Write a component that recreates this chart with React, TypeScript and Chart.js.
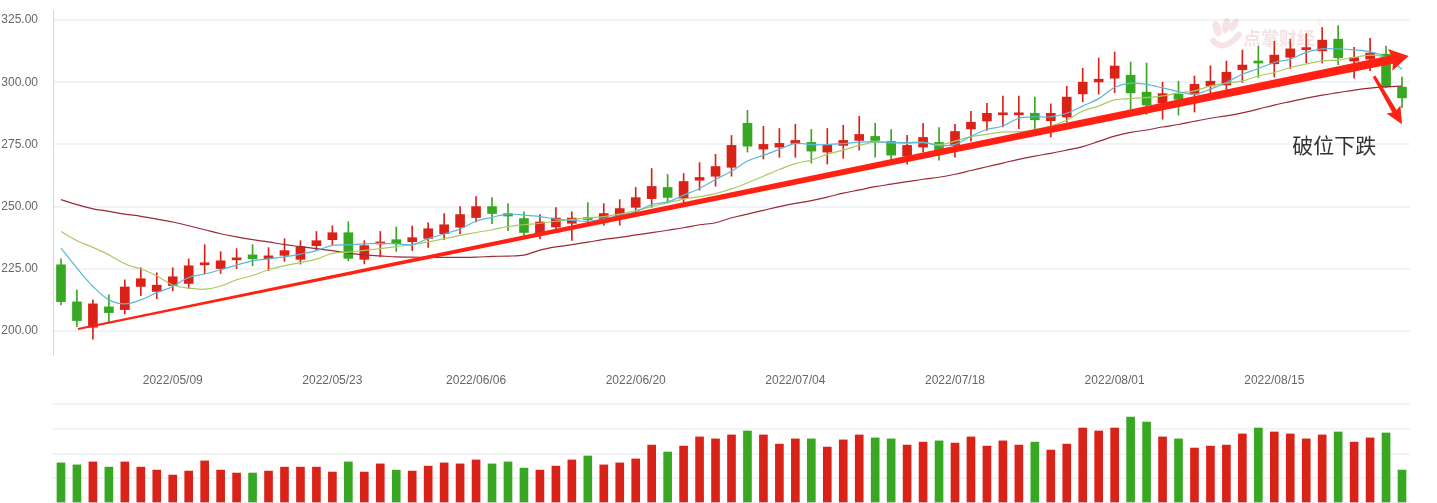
import React, { useEffect, useRef } from 'react';
import { Chart, registerables } from 'chart.js';

Chart.register(...registerables);

// ---------- data ----------
const dates = [
  '2022/04/25', '2022/04/26', '2022/04/27', '2022/04/28', '2022/04/29', '2022/05/05', '2022/05/06',
  '2022/05/09', '2022/05/10', '2022/05/11', '2022/05/12', '2022/05/13',
  '2022/05/16', '2022/05/17', '2022/05/18', '2022/05/19', '2022/05/20',
  '2022/05/23', '2022/05/24', '2022/05/25', '2022/05/26', '2022/05/27',
  '2022/05/30', '2022/05/31', '2022/06/01', '2022/06/02',
  '2022/06/06', '2022/06/07', '2022/06/08', '2022/06/09', '2022/06/10',
  '2022/06/13', '2022/06/14', '2022/06/15', '2022/06/16', '2022/06/17',
  '2022/06/20', '2022/06/21', '2022/06/22', '2022/06/23', '2022/06/24',
  '2022/06/27', '2022/06/28', '2022/06/29', '2022/06/30', '2022/07/01',
  '2022/07/04', '2022/07/05', '2022/07/06', '2022/07/07', '2022/07/08',
  '2022/07/11', '2022/07/12', '2022/07/13', '2022/07/14', '2022/07/15',
  '2022/07/18', '2022/07/19', '2022/07/20', '2022/07/21', '2022/07/22',
  '2022/07/25', '2022/07/26', '2022/07/27', '2022/07/28', '2022/07/29',
  '2022/08/01', '2022/08/02', '2022/08/03', '2022/08/04', '2022/08/05',
  '2022/08/08', '2022/08/09', '2022/08/10', '2022/08/11', '2022/08/12',
  '2022/08/15', '2022/08/16', '2022/08/17', '2022/08/18', '2022/08/19',
  '2022/08/22', '2022/08/23', '2022/08/24', '2022/08/25',
];

const shownDates = ['2022/05/09', '2022/05/23', '2022/06/06', '2022/06/20', '2022/07/04', '2022/07/18', '2022/08/01', '2022/08/15'];

const opens = [
  226.6, 211.7, 201.5, 209.7, 208.6, 217.9, 215.9, 218.3, 219.1, 226.6,
  225.1, 228.6, 230.6, 229.0, 230.4, 228.8, 234.3, 236.7, 239.5, 228.8,
  235.0, 236.7, 235.9, 237.2, 239.1, 241.7, 245.6, 250.0, 247.2, 245.2,
  239.4, 241.8, 243.3, 245.4, 244.8, 246.0, 249.7, 253.2, 257.7, 253.4,
  260.6, 262.2, 265.8, 283.5, 273.1, 273.9, 275.4, 275.8, 271.9, 274.6,
  276.6, 278.2, 276.2, 270.3, 273.9, 275.8, 274.6, 281.2, 284.4, 286.9,
  286.9, 287.5, 284.5, 286.0, 295.3, 300.1, 301.6, 302.8, 296.0, 291.6,
  295.2, 295.2, 298.5, 298.9, 305.0, 308.3, 307.4, 310.0, 313.1, 312.6,
  317.3, 308.5, 309.3, 311.3, 298.0,
];
const highs = [
  229.0, 216.5, 212.5, 214.5, 220.6, 225.4, 223.4, 225.4, 229.0, 234.7,
  231.9, 233.1, 234.7, 233.5, 237.1, 236.3, 240.0, 242.3, 243.9, 236.3,
  240.0, 241.8, 242.2, 243.5, 247.2, 250.0, 254.0, 253.6, 251.2, 247.9,
  246.8, 249.6, 247.9, 251.6, 251.2, 252.8, 257.7, 265.3, 262.9, 263.3,
  267.7, 271.0, 278.6, 288.7, 282.3, 281.4, 283.1, 281.0, 281.4, 282.7,
  286.3, 283.5, 281.0, 278.6, 283.5, 281.8, 283.1, 288.3, 291.5, 294.4,
  294.4, 294.0, 291.3, 298.4, 305.6, 309.7, 312.1, 308.1, 307.7, 300.0,
  300.4, 302.5, 306.6, 308.5, 312.9, 314.5, 316.5, 317.3, 319.5, 322.0,
  322.8, 314.0, 317.6, 314.5, 302.1,
];
const lows = [
  210.5, 201.7, 196.7, 203.1, 206.9, 214.2, 213.0, 216.1, 217.0, 222.9,
  223.1, 225.1, 226.2, 224.3, 228.0, 226.9, 232.3, 234.7, 228.2, 227.0,
  229.8, 232.0, 232.3, 233.6, 236.7, 239.0, 243.8, 243.1, 240.3, 238.0,
  237.0, 240.7, 236.4, 243.3, 242.5, 242.5, 247.2, 249.7, 251.5, 251.4,
  256.6, 258.2, 262.2, 271.9, 269.1, 269.8, 269.8, 267.5, 267.1, 269.4,
  272.7, 269.9, 268.9, 267.1, 271.9, 268.7, 269.9, 276.3, 280.6, 282.0,
  281.3, 281.0, 278.0, 284.0, 292.1, 295.2, 295.8, 289.1, 287.0, 285.1,
  286.8, 288.0, 295.7, 297.0, 299.9, 301.9, 302.1, 305.5, 307.7, 307.7,
  307.0, 301.6, 304.6, 297.9, 289.8,
];
const closes = [
  211.8, 204.2, 210.9, 207.4, 217.7, 221.0, 218.4, 221.8, 226.2, 227.0,
  228.2, 229.4, 229.0, 230.2, 232.3, 233.9, 236.3, 239.5, 229.2, 234.3,
  235.3, 235.1, 237.5, 241.1, 242.7, 246.8, 250.0, 247.2, 246.2, 239.6,
  243.8, 245.4, 245.4, 244.8, 247.2, 249.2, 253.6, 258.1, 253.7, 260.1,
  261.7, 266.1, 274.6, 274.3, 275.0, 275.4, 276.6, 272.3, 274.6, 276.6,
  279.0, 276.6, 270.7, 274.6, 277.8, 272.7, 280.2, 283.9, 287.5, 287.5,
  287.5, 284.9, 287.5, 294.0, 300.0, 301.2, 306.5, 295.7, 290.8, 295.4,
  293.1, 299.2, 300.4, 304.0, 306.9, 307.7, 310.9, 313.4, 313.9, 316.9,
  309.8, 309.9, 311.7, 298.1, 293.7,
];

const ma5 = [
  233.3, 225.3, 217.9, 212.5, 210.9, 212.5, 215.4, 217.9, 221.5, 222.9,
  224.6, 226.5, 228.2, 229.0, 229.8, 230.9, 232.3, 234.4, 234.6, 235.0,
  235.2, 235.0, 234.7, 237.1, 239.0, 241.0, 244.1, 245.7, 247.0, 246.6,
  246.0, 245.0, 244.5, 244.1, 245.2, 246.5, 247.9, 250.8, 251.9, 254.6,
  257.3, 260.9, 264.2, 268.3, 270.6, 273.0, 275.4, 274.9, 274.9, 275.3,
  275.9, 276.1, 275.8, 275.7, 275.9, 274.5, 275.0, 278.3, 281.0, 282.4,
  285.5, 286.1, 286.1, 287.5, 290.4, 293.4, 297.9, 299.6, 299.1, 297.7,
  296.2, 295.2, 297.2, 299.9, 303.2, 305.5, 307.9, 309.3, 312.0, 313.4,
  313.4, 313.0, 312.2, 310.0, 305.2,
];
const ma10 = [
  240.0, 236.3, 233.6, 230.6, 227.0, 224.9, 222.2, 218.5, 217.2, 216.8,
  218.1, 220.6, 222.3, 224.6, 226.2, 227.5, 228.9, 231.2, 231.7, 232.4,
  233.1, 233.9, 234.7, 235.8, 237.1, 238.4, 239.6, 240.7, 242.0, 242.7,
  243.3, 244.1, 244.9, 245.4, 246.0, 247.0, 248.4, 250.0, 251.5, 253.0,
  254.0, 255.2, 257.1, 259.5, 262.2, 264.9, 267.3, 268.7, 271.0, 272.7,
  274.6, 275.9, 275.7, 275.4, 275.7, 274.9, 276.3, 278.1, 279.0, 280.0,
  280.1, 281.0, 282.4, 284.7, 288.4, 290.4, 292.9, 293.4, 293.8, 294.5,
  295.7, 296.5, 298.5, 299.6, 300.5, 302.5, 303.9, 305.9, 307.3, 308.6,
  308.9, 310.0, 310.9, 310.2, 309.0,
];
const ma60 = [
  252.8, 250.8, 249.1, 248.1, 247.0, 246.1, 245.0, 243.8, 242.3, 240.7,
  239.1, 237.8, 236.7, 235.8, 234.7, 233.9, 233.1, 232.3, 231.3, 230.6,
  230.2, 229.8, 229.7, 229.6, 229.6, 229.6, 229.7, 230.0, 230.1, 230.5,
  232.5, 233.8, 234.7, 235.7, 236.8, 237.6, 238.6, 239.5, 240.5, 241.5,
  242.7, 243.5, 245.5, 247.0, 248.5, 250.0, 251.3, 252.4, 253.8, 255.4,
  256.7, 258.0, 259.0, 260.0, 261.0, 261.8, 263.0, 264.5, 266.0, 267.5,
  269.0, 270.3, 271.4, 272.7, 274.1, 276.2, 278.3, 279.8, 280.8, 282.0,
  283.0, 284.3, 285.5, 286.5, 287.7, 289.2, 290.8, 292.2, 293.6, 294.8,
  295.8, 296.8, 297.6, 298.1, 298.4,
];

const volumes = [
  1.62, 1.54, 1.66, 1.45, 1.66, 1.45, 1.33, 1.13, 1.29, 1.70,
  1.33, 1.21, 1.21, 1.29, 1.45, 1.45, 1.45, 1.25, 1.66, 1.25,
  1.58, 1.33, 1.29, 1.49, 1.62, 1.58, 1.74, 1.58, 1.66, 1.41,
  1.33, 1.49, 1.74, 1.90, 1.54, 1.62, 1.78, 2.34, 2.06, 2.30,
  2.67, 2.59, 2.75, 2.91, 2.75, 2.38, 2.59, 2.59, 2.26, 2.55,
  2.75, 2.63, 2.59, 2.34, 2.46, 2.51, 2.42, 2.67, 2.30, 2.51,
  2.34, 2.46, 2.14, 2.38, 3.03, 2.91, 3.03, 3.47, 3.27, 2.67,
  2.59, 2.22, 2.30, 2.34, 2.79, 3.03, 2.87, 2.79, 2.59, 2.75,
  2.87, 2.46, 2.63, 2.83, 1.33,
];

const priceTicks = [200, 225, 250, 275, 300, 325];
const volumeTicks = [0, 1, 2, 3, 4];

// annotations, in (candle index, price) coordinates
const trendArrow = { from: [1.06, 200.8], to: [84.42, 310.5] };
const breakArrow = { from: [82.25, 302.4], to: [84.0, 283.1] };
const noteText = '破位下跌';
const notePos = [79.75, 274.6];
const watermarkText = '点掌财经';
const watermarkPos = [76.3, 318.3];

// ---------- styles ----------
const RED = '#da2318';
const GREEN = '#38a823';
const ARROW = '#ff2214';
const FONT = "'Liberation Sans', Arial, sans-serif";

const candleColors = closes.map((c, i) => (c >= opens[i] ? RED : GREEN));

function drawArrow(ctx: CanvasRenderingContext2D, x0: number, y0: number, x1: number, y1: number,
  w0: number, w1: number, headLen: number, headHalf: number) {
  const dx = x1 - x0, dy = y1 - y0;
  const len = Math.hypot(dx, dy);
  const ux = dx / len, uy = dy / len;
  const nx = -uy, ny = ux;
  const bx = x1 - ux * headLen, by = y1 - uy * headLen;
  ctx.beginPath();
  ctx.moveTo(x0 + nx * w0 / 2, y0 + ny * w0 / 2);
  ctx.lineTo(bx + nx * w1 / 2, by + ny * w1 / 2);
  ctx.lineTo(bx + nx * headHalf - ux * 2, by + ny * headHalf - uy * 2);
  ctx.lineTo(x1, y1);
  ctx.lineTo(bx - nx * headHalf - ux * 2, by - ny * headHalf - uy * 2);
  ctx.lineTo(bx - nx * w1 / 2, by - ny * w1 / 2);
  ctx.lineTo(x0 - nx * w0 / 2, y0 - ny * w0 / 2);
  ctx.closePath();
  ctx.fill();
}

const annotationPlugin = {
  id: 'annotations',
  afterDatasetsDraw(chart: any) {
    const { ctx } = chart;
    const xs = chart.scales.x, ys = chart.scales.y;
    const px = (v: number) => xs.getPixelForValue(v);
    const py = (v: number) => ys.getPixelForValue(v);
    ctx.save();
    // watermark
    const wx = px(watermarkPos[0]), wy = py(watermarkPos[1]);
    const wm = 'rgba(225,140,150,0.25)';
    ctx.fillStyle = wm;
    ctx.font = `bold 18px 'Noto Sans CJK SC', sans-serif`;
    ctx.textAlign = 'center';
    ctx.textBaseline = 'middle';
    ctx.fillText(watermarkText, wx, wy + 1);
    ctx.font = `8px ${FONT}`;
    ctx.fillText('®', wx + 40, wy - 14);
    ctx.beginPath();
    ctx.ellipse(wx - 62, wy - 8, 4, 8, -0.3, 0, Math.PI * 2);
    ctx.fill();
    ctx.beginPath();
    ctx.ellipse(wx - 53, wy - 11, 4, 8, 0.2, 0, Math.PI * 2);
    ctx.fill();
    ctx.beginPath();
    ctx.ellipse(wx - 45, wy - 12, 3.5, 7, 0.5, 0, Math.PI * 2);
    ctx.fill();
    ctx.beginPath();
    ctx.lineWidth = 6;
    ctx.strokeStyle = wm;
    ctx.lineCap = 'round';
    ctx.moveTo(wx - 66, wy + 4);
    ctx.quadraticCurveTo(wx - 56, wy + 16, wx - 40, wy - 2);
    ctx.stroke();
    // arrows
    ctx.fillStyle = ARROW;
    drawArrow(ctx, px(trendArrow.from[0]), py(trendArrow.from[1]), px(trendArrow.to[0]), py(trendArrow.to[1]),
      2, 8.5, 17, 11);
    drawArrow(ctx, px(breakArrow.from[0]), py(breakArrow.from[1]), px(breakArrow.to[0]), py(breakArrow.to[1]),
      3, 5, 15, 8);
    // note
    ctx.fillStyle = '#333';
    ctx.font = `21px 'Noto Sans CJK SC', sans-serif`;
    ctx.textAlign = 'center';
    ctx.textBaseline = 'middle';
    ctx.fillText(noteText, px(notePos[0]), py(notePos[1]));
    ctx.restore();
  },
};

const noEdgePadding = (s: any) => {
  s.width = 53;
  s.paddingTop = 0;
  s.paddingBottom = 0;
};

export default function App() {
  const priceRef = useRef<HTMLCanvasElement>(null);
  const volRef = useRef<HTMLCanvasElement>(null);

  useEffect(() => {
    const price = new Chart(priceRef.current as HTMLCanvasElement, {
      type: 'bar',
      data: {
        labels: dates,
        datasets: [
          { type: 'line', data: ma5, borderColor: '#58b8d8', borderWidth: 1.2, pointRadius: 0, tension: 0.35, order: 0 } as any,
          { type: 'line', data: ma10, borderColor: '#a8cb60', borderWidth: 1.2, pointRadius: 0, tension: 0.35, order: 0 } as any,
          { type: 'line', data: ma60, borderColor: '#9b2a36', borderWidth: 1.2, pointRadius: 0, tension: 0.35, order: 0 } as any,
          {
            type: 'bar', data: opens.map((o, i) => [o, closes[i]]), backgroundColor: candleColors,
            barThickness: 9, grouped: false, minBarLength: 2, order: 1,
          } as any,
          {
            type: 'bar', data: lows.map((l, i) => [l, highs[i]]), backgroundColor: candleColors,
            barThickness: 1, grouped: false, order: 2,
          } as any,
        ],
      },
      options: {
        responsive: false,
        animation: false,
        layout: { padding: { top: 10, right: 27, left: 0, bottom: 0 } },
        plugins: { legend: { display: false }, tooltip: { enabled: false } },
        scales: {
          x: {
            type: 'category',
            offset: true,
            grid: { display: false, drawTicks: false },
            border: { display: false },
            ticks: {
              autoSkip: false,
              maxRotation: 0,
              padding: 18,
              color: '#666',
              font: { size: 12, family: FONT },
              callback: (_v: any, i: number) => (shownDates.includes(dates[i]) ? dates[i] : ''),
            },
            afterFit: (s: any) => { s.height = 40; s.paddingLeft = 0; s.paddingRight = 0; },
          },
          y: {
            min: 190.35,
            max: 329.02,
            afterBuildTicks: (s: any) => { s.ticks = priceTicks.map((v) => ({ value: v })); },
            ticks: { padding: 15, color: '#666', font: { size: 12, family: FONT }, callback: (v: any) => Number(v).toFixed(2) },
            grid: { color: '#f1f3f7', lineWidth: 2, drawTicks: false },
            border: { display: true, color: '#ccd6eb', width: 1 },
            afterFit: noEdgePadding,
          },
        },
      } as any,
      plugins: [annotationPlugin],
    });

    const vol = new Chart(volRef.current as HTMLCanvasElement, {
      type: 'bar',
      data: {
        labels: dates,
        datasets: [
          { data: volumes, backgroundColor: candleColors, barThickness: 8 } as any,
        ],
      },
      options: {
        responsive: false,
        animation: false,
        layout: { padding: { top: 9, right: 27, left: 0, bottom: 0 } },
        plugins: { legend: { display: false }, tooltip: { enabled: false } },
        scales: {
          x: { display: false, offset: true },
          y: {
            min: 0,
            max: 4,
            afterBuildTicks: (s: any) => { s.ticks = volumeTicks.map((v) => ({ value: v })); },
            ticks: { display: false },
            grid: { color: '#f1f3f7', lineWidth: 2, drawTicks: false },
            border: { display: false },
            afterFit: noEdgePadding,
          },
        },
      } as any,
    });

    return () => {
      price.destroy();
      vol.destroy();
    };
  }, []);

  return (
    <div style={{ position: 'fixed', left: 0, top: 0, width: 1437, height: 503, overflow: 'hidden', background: '#fff' }}>
      <canvas ref={priceRef} width={1437} height={395} style={{ position: 'absolute', left: 0, top: 0 }} />
      <canvas ref={volRef} width={1437} height={108} style={{ position: 'absolute', left: 0, top: 395 }} />
    </div>
  );
}
